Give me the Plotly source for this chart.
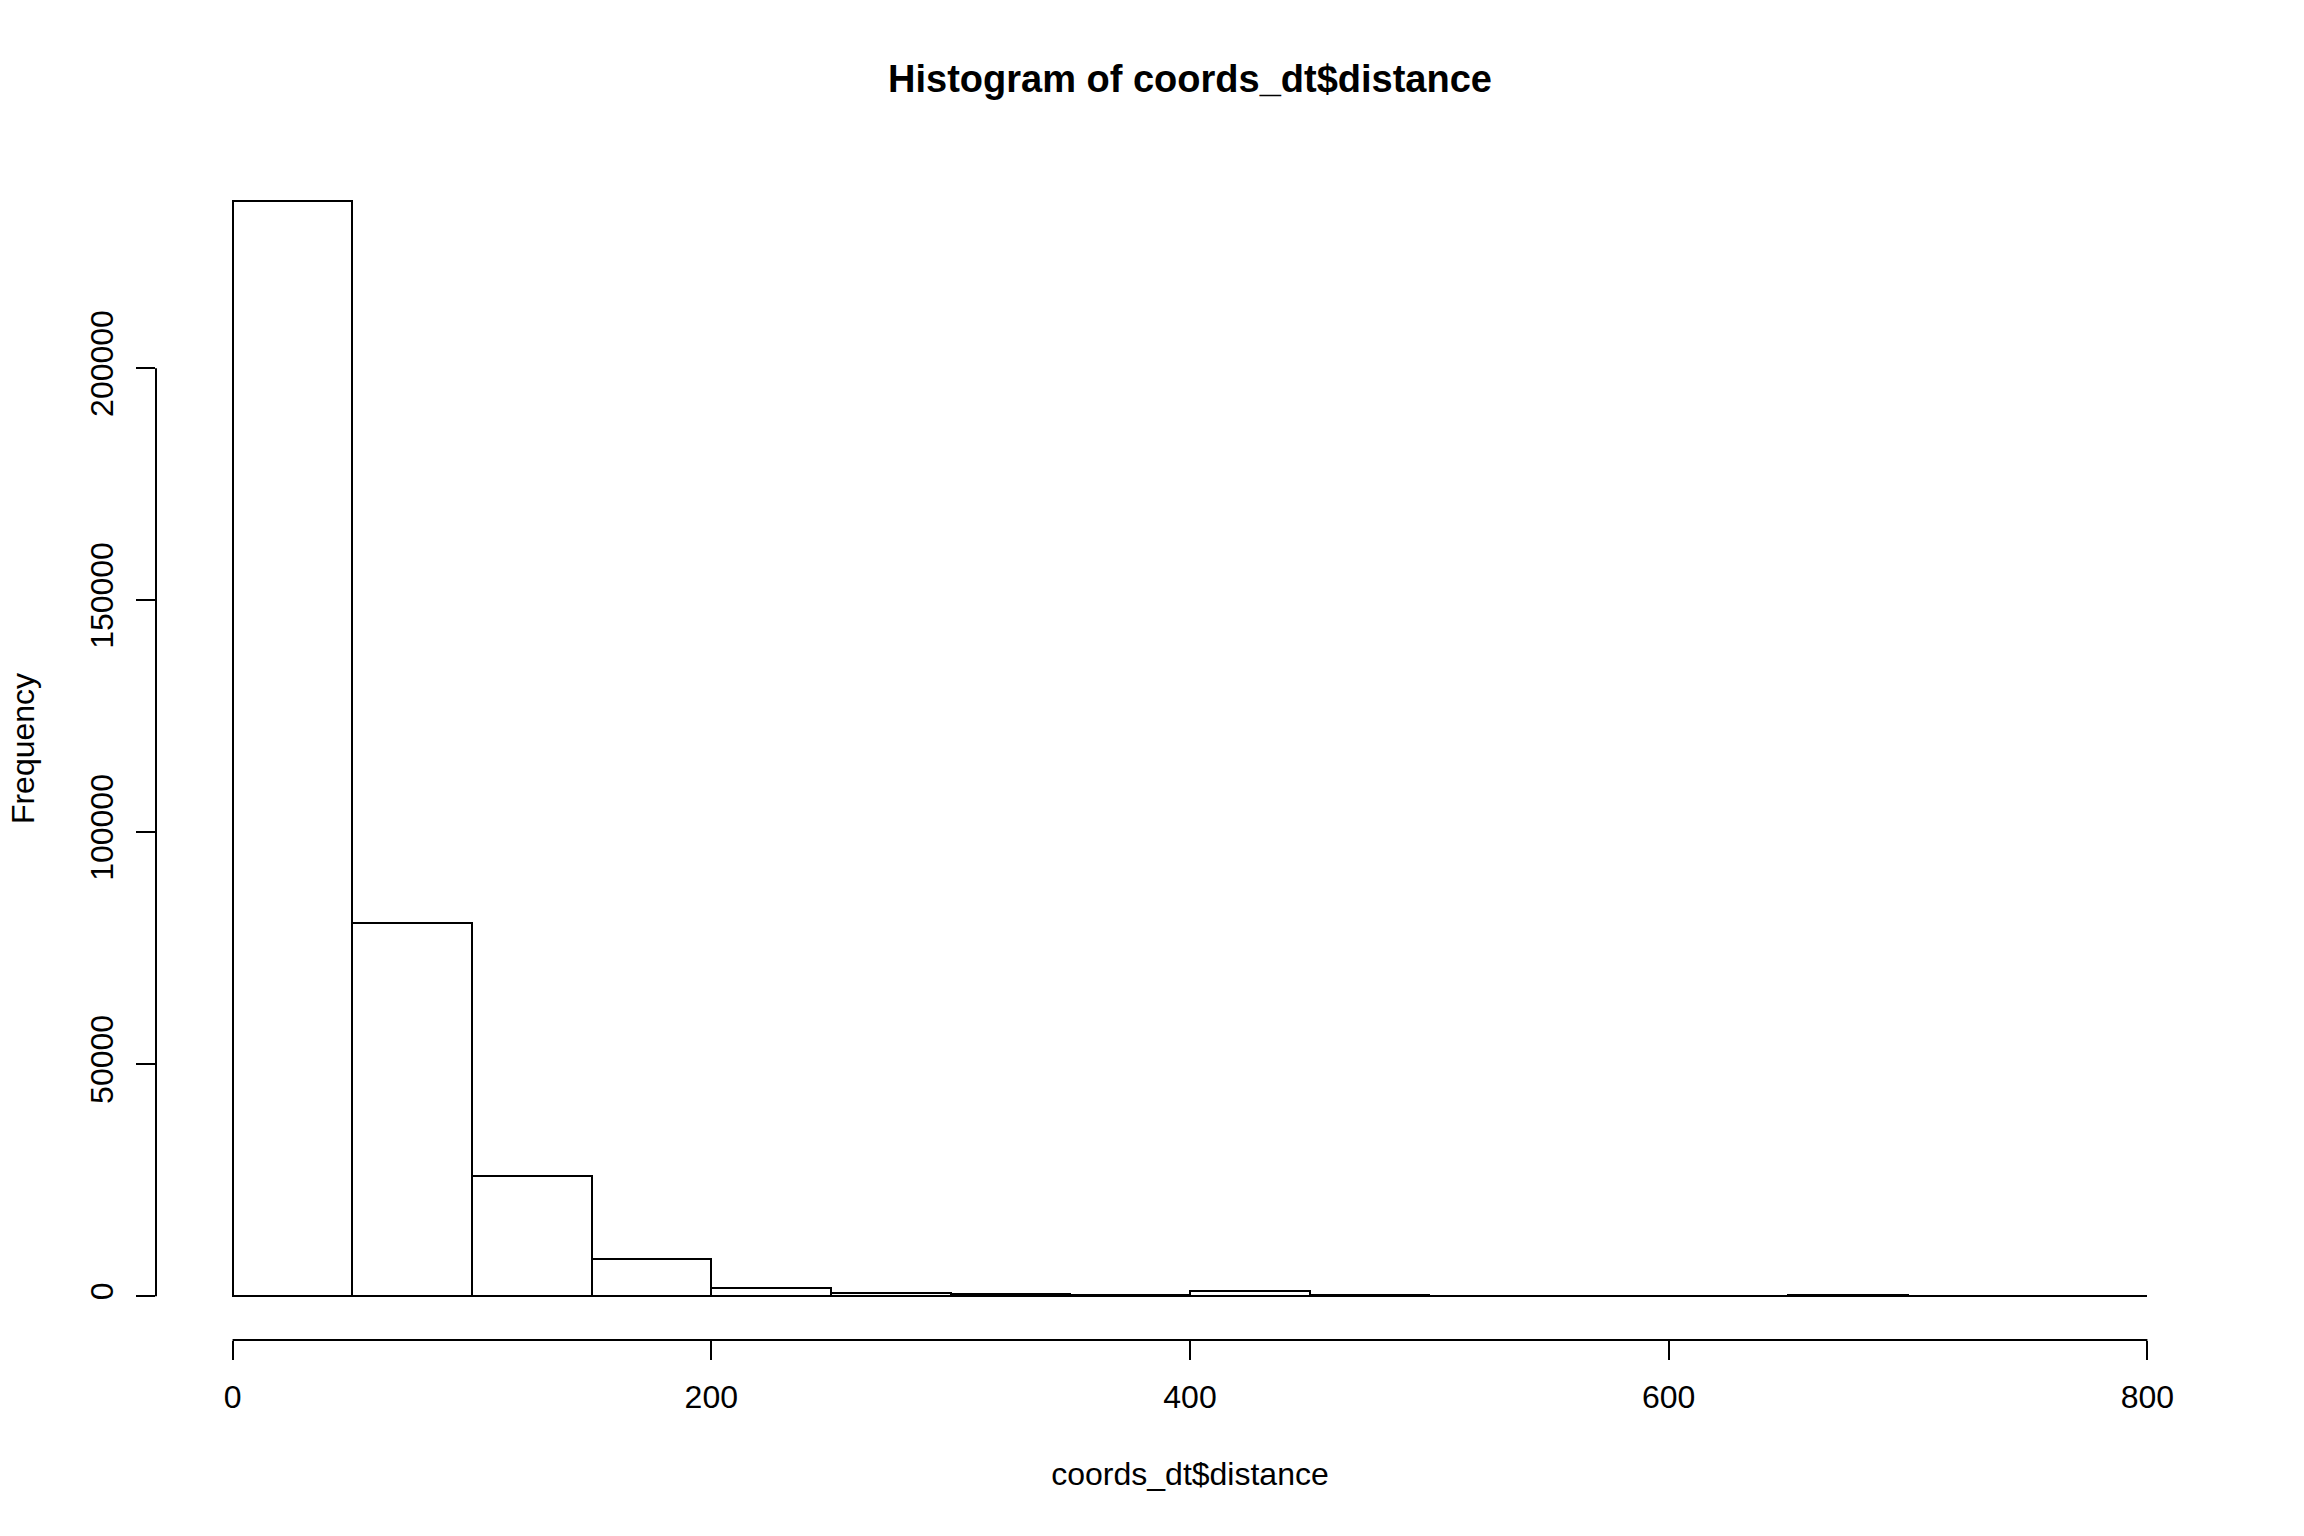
import numpy as np
import plotly.graph_objects as gobj

# histogram of distances, counts per 50 unit bin
breaks = [0, 50, 100, 150, 200, 250, 300, 350, 400, 450, 500, 550, 600, 650, 700, 750, 800]
counts = [236100, 80400, 25800, 8000, 1800, 600, 550, 350, 1100, 150, 100, 80, 100, 250, 60, 50]

x_ticks = [0, 200, 400, 600, 800]
y_ticks = [0, 50000, 100000, 150000, 200000]

title_text = "Histogram of coords_dt$distance"
x_label = "coords_dt$distance"
y_label = "Frequency"

FONT = "Liberation Sans, Arial, Helvetica, sans-serif"

edges = np.array(breaks, dtype=float)
mids = (edges[:-1] + edges[1:]) / 2
widths = np.diff(edges)

# R pads both axis ranges by 4%
x_pad = (edges[-1] - edges[0]) * 0.04
y_max = max(counts)
y_pad = y_max * 0.04

fig = gobj.Figure()
fig.add_bar(x=mids, y=counts, width=widths,
            marker=dict(color="white", line=dict(color="black", width=2)),
            showlegend=False)

# axis lines only span first..last tick, like base R
fig.add_shape(type="line", xref="x", yref="paper", x0=x_ticks[0], x1=x_ticks[-1], y0=0, y1=0,
              line=dict(color="black", width=2))
fig.add_shape(type="line", xref="paper", yref="y", x0=0, x1=0, y0=y_ticks[0], y1=y_ticks[-1],
              line=dict(color="black", width=2))

fig.update_xaxes(range=[edges[0] - x_pad, edges[-1] + x_pad], tickvals=x_ticks,
                 ticks="outside", ticklen=19, tickwidth=2, tickcolor="black",
                 showline=False, showgrid=False, zeroline=False,
                 tickfont=dict(family=FONT, size=32, color="black"),
                 ticklabelstandoff=10,
                 title=dict(text=x_label, font=dict(family=FONT, size=32, color="black"), standoff=48))
fig.update_yaxes(range=[-y_pad, y_max + y_pad], tickvals=y_ticks, tickformat="d",
                 ticks="outside", ticklen=19, tickwidth=2, tickcolor="black",
                 showline=False, showgrid=False, zeroline=False, tickangle=-90,
                 tickfont=dict(family=FONT, size=32, color="black"),
                 ticklabelstandoff=10,
                 title=dict(text=y_label, font=dict(family=FONT, size=32, color="black"), standoff=40))

fig.update_layout(title=dict(text=title_text, x=0.5, xref="paper", xanchor="center",
                             y=1 - 79 / 1536, yref="container", yanchor="middle",
                             font=dict(family=FONT, size=38, color="black", weight="bold")),
    autosize=False,
    width=2304,
    height=1536,
    margin=dict(l=156, r=80, t=157, b=196),
    plot_bgcolor="white",
    paper_bgcolor="white",
    hovermode=False,
    bargap=0)

# drop the browser's default body margin so the figure sits at the page corner
fig.write_html("out.html", config={"displayModeBar": False},
               post_script="document.body.style.margin = '0';")
